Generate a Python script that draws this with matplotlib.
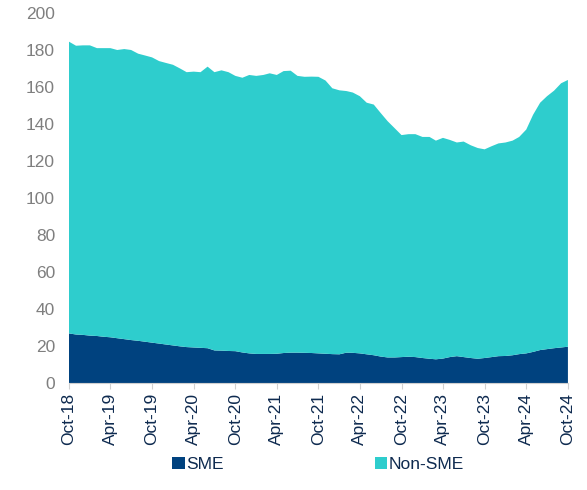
import matplotlib
matplotlib.use("Agg")
import matplotlib.pyplot as plt
import numpy as np
import pandas as pd

# Monthly readings, Oct-18 .. Oct-24 (73 months)
total = [184.5, 182.3, 182.5, 182.5, 181.0, 181.0, 181.0, 180.0, 180.5, 180.0,
         178.0, 177.0, 176.0, 174.0, 173.0, 172.0, 170.0, 168.0, 168.3, 168.0,
         171.0, 168.0, 169.0, 168.0, 166.0, 165.0, 166.5, 166.0, 166.5, 167.4,
         166.5, 168.6, 168.8, 166.0, 165.5, 165.6, 165.5, 163.5, 159.3, 158.2,
         157.8, 157.0, 155.0, 151.5, 150.5, 146.0, 141.5, 137.7, 134.0, 134.5,
         134.5, 133.0, 133.0, 131.0, 132.5, 131.4, 130.0, 130.5, 128.5, 127.0,
         126.3, 128.0, 129.5, 130.0, 131.0, 133.0, 137.0, 145.0, 151.5, 155.0,
         158.0, 162.0, 163.8]
sme = [26.8, 26.2, 26.0, 25.6, 25.4, 25.0, 24.7, 24.2, 23.7, 23.2,
       22.8, 22.3, 21.8, 21.3, 20.8, 20.3, 19.8, 19.4, 19.2, 19.0,
       18.8, 17.6, 17.5, 17.3, 17.2, 16.5, 16.0, 15.7, 15.7, 15.7,
       15.8, 16.2, 16.4, 16.4, 16.3, 16.2, 16.0, 15.8, 15.6, 15.5,
       16.4, 16.3, 16.0, 15.5, 15.0, 14.3, 13.8, 13.8, 14.0, 14.2,
       14.0, 13.5, 13.1, 12.8, 13.2, 14.0, 14.5, 14.0, 13.5, 13.1,
       13.5, 14.0, 14.5, 14.6, 15.0, 15.6, 16.0, 16.8, 17.8, 18.3,
       18.8, 19.2, 19.6]
non_sme = [t - s for t, s in zip(total, sme)]

dates = pd.date_range("2018-10-01", periods=len(total), freq="MS")
tick_dates = pd.date_range("2018-10-01", "2024-10-01", freq="6MS")
tick_labels = [d.strftime("%b-%y") for d in tick_dates]

plt.rcParams['font.family'] = ['Liberation Sans', 'DejaVu Sans']

fig = plt.figure(figsize=(5.87, 4.90), dpi=100)
ax = fig.add_axes([0.1175, 0.2184, 0.85, 0.7551])

sme_color = '#00427F'
non_color = '#2ECDCD'
ax.stackplot(dates, sme, non_sme, colors=[sme_color, non_color],
             labels=['SME', 'Non-SME'], linewidth=0)

ax.set_xlim(dates[0], dates[-1])
ax.set_ylim(0, 200)
ax.set_yticks(np.arange(0, 201, 20))
ax.set_xticks(tick_dates)
ax.set_xticklabels(tick_labels, rotation=90)

for s in ['top', 'right', 'left']:
    ax.spines[s].set_visible(False)
ax.spines['bottom'].set_color('#D0D0D0')
ax.tick_params(axis='y', length=0, labelsize=12.5, labelcolor='#7F7F7F', pad=10)
ax.tick_params(axis='x', length=4, color='#D0D0D0', labelsize=12.5,
               labelcolor='#0E2A4F', pad=3)

leg = fig.legend(loc='lower center', bbox_to_anchor=(0.542, 0.005), ncol=2,
                 frameon=False, fontsize=12.5, handlelength=0.7,
                 handleheight=0.7, handletextpad=0.1, columnspacing=8.7)
for t in leg.get_texts():
    t.set_color('#0E2A4F')

fig.savefig("out.png", dpi=100)
